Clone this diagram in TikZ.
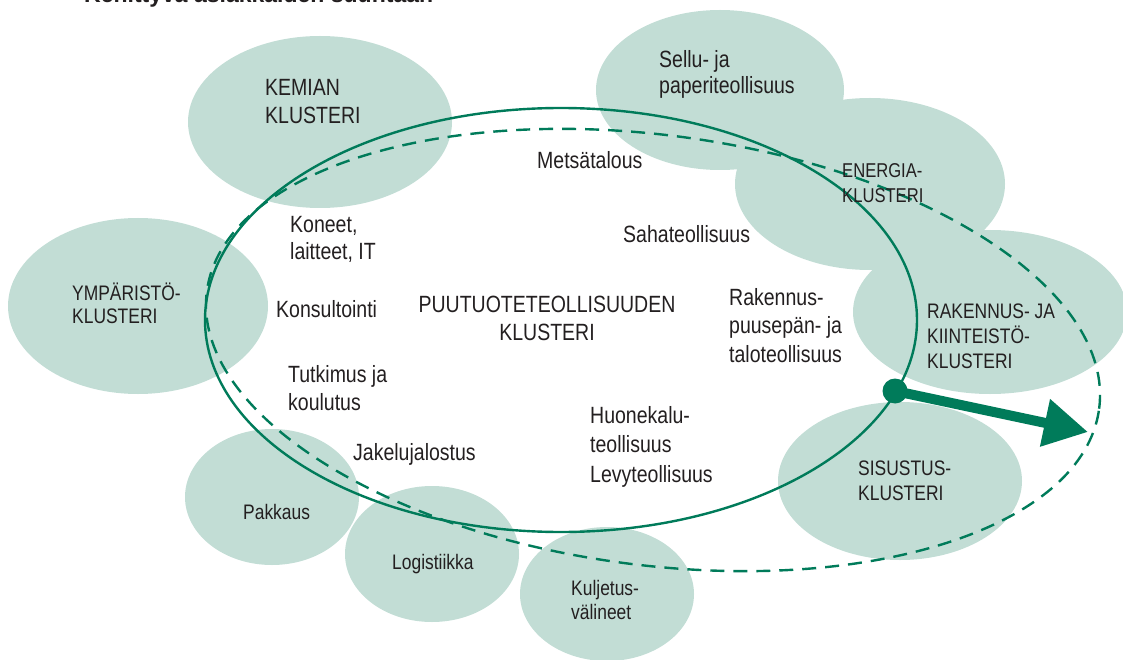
\documentclass[tikz,border=0pt]{standalone}
\usepackage{fontspec}
\setmainfont{Liberation Sans}
\newfontfamily\labfont{Liberation Sans}[FakeStretch=0.83]
\usetikzlibrary{arrows.meta}
\definecolor{dg}{RGB}{0,123,90}
\definecolor{lg}{RGB}{194,221,213}
\definecolor{tx}{RGB}{35,31,32}
\newcommand\Lft[1]{\vtop{\halign{##\hfil\cr#1\crcr}}}
\newcommand\Ctr[1]{\vtop{\halign{\hfil##\hfil\cr#1\crcr}}}
\begin{document}
\begin{tikzpicture}[x=1pt,y=-1pt,
  blob/.style={fill=lg},
  bigl/.style={inner sep=0pt, anchor=base west, text=tx, font=\labfont\fontsize{23.5}{28}\selectfont},
  smalll/.style={inner sep=0pt, anchor=base west, text=tx, font=\labfont\fontsize{21}{25}\selectfont},
  ring/.style={draw=dg, line width=2.4pt},
]
\useasboundingbox (0,0) rectangle (1123,660);
% cluster blobs
\fill[blob] (320,122) ellipse [x radius=132pt, y radius=86pt];
\fill[blob] (720,90) ellipse [x radius=124pt, y radius=80pt];
\fill[blob] (870,184) ellipse [x radius=135pt, y radius=86pt];
\fill[blob] (990,312) ellipse [x radius=137pt, y radius=82pt];
\fill[blob] (900,481) ellipse [x radius=122pt, y radius=79pt];
\fill[blob] (138,306) ellipse [x radius=130pt, y radius=88pt];
\fill[blob] (272,497) ellipse [x radius=87pt, y radius=68pt];
\fill[blob] (432,554) ellipse [x radius=87pt, y radius=68pt];
\fill[blob] (607,594) ellipse [x radius=87pt, y radius=67pt];
% rings
\draw[ring, dash pattern=on 14pt off 9pt, rotate around={-7.5:(653,350)}] (653,350) ellipse [x radius=450pt, y radius=215pt];
\draw[ring] (561,320) ellipse [x radius=356pt, y radius=212pt];
% arrow
\node[circle, fill=dg, minimum size=25pt, inner sep=0pt] (dot) at (895,391) {};
\coordinate (tip) at (1088,432);
\draw[dg, line width=10pt, -{Triangle[length=44pt,width=46pt]}] (dot.center) -- (tip);
% title
\node[anchor=base west, inner sep=0pt, text=tx, font=\bfseries\fontsize{23}{28}\selectfont] (title) at (84,3) {Kehittyvä asiakkaiden suuntaan};
% labels
\node[bigl] (kem) at (265,96) {\Lft{KEMIAN\cr KLUSTERI}};
\node[bigl, font=\labfont\fontsize{23.5}{26}\selectfont] (sellu) at (659,68) {\Lft{Sellu- ja\cr paperiteollisuus}};
\node[bigl] (mets) at (537,169) {Metsätalous};
\node[smalll, font=\labfont\fontsize{20}{25}\selectfont] (ener) at (842,178) {\Lft{ENERGIA-\cr KLUSTERI}};
\node[bigl] (saha) at (623,243) {Sahateollisuus};
\node[bigl, font=\labfont\fontsize{23.5}{27}\selectfont] (kone) at (290,233) {\Lft{Koneet,\cr laitteet, IT}};
\node[smalll, font=\labfont\fontsize{21}{23}\selectfont] (ymp) at (72,300) {\Lft{YMPÄRISTÖ-\cr KLUSTERI}};
\node[bigl] (kons) at (276,317) {Konsultointi};
\node[bigl, anchor=base] (puu) at (547,312) {\Ctr{PUUTUOTETEOLLISUUDEN\cr KLUSTERI}};
\node[bigl, font=\labfont\fontsize{23.5}{28.5}\selectfont] (rak) at (729,305) {\Lft{Rakennus-\cr puusepän- ja\cr taloteollisuus}};
\node[smalll] (rakj) at (927,318) {\Lft{RAKENNUS- JA\cr KIINTEISTÖ-\cr KLUSTERI}};
\node[bigl] (tut) at (288,382) {\Lft{Tutkimus ja\cr koulutus}};
\node[bigl, font=\labfont\fontsize{23.5}{29.5}\selectfont] (huon) at (590,423) {\Lft{Huonekalu-\cr teollisuus\cr Levyteollisuus}};
\node[bigl] (jak) at (353,460) {Jakelujalostus};
\node[smalll] (sis) at (858,475) {\Lft{SISUSTUS-\cr KLUSTERI}};
\node[smalll] (pak) at (243,519) {Pakkaus};
\node[smalll] (log) at (392,569) {Logistiikka};
\node[smalll, font=\labfont\fontsize{21}{24}\selectfont] (kul) at (571,595) {\Lft{Kuljetus-\cr välineet}};
\end{tikzpicture}
\end{document}
